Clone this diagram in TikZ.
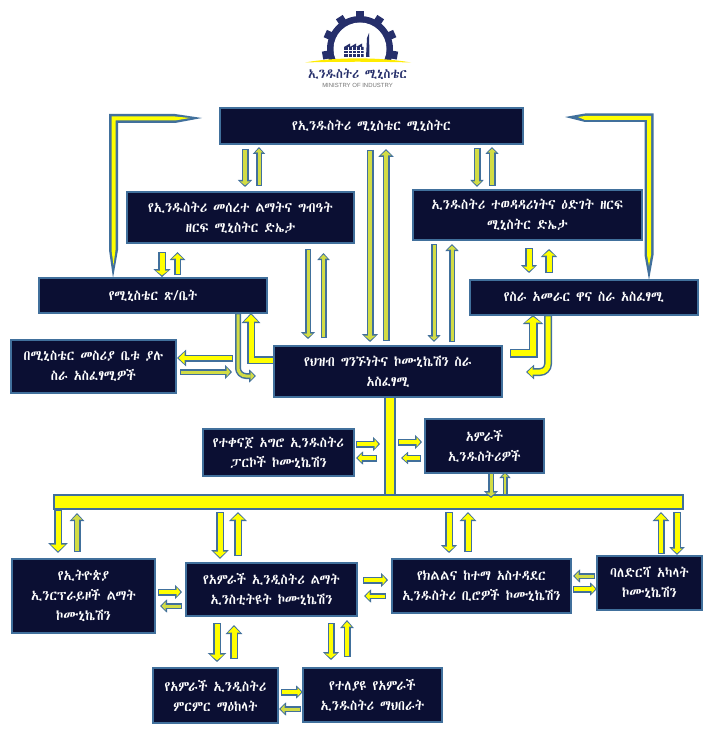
\documentclass[tikz,border=0pt]{standalone}
\usepackage{fontspec}
\usetikzlibrary{arrows.meta,calc}
\newfontfamily\ethf[FakeStretch=0.93]{Abyssinica SIL}
\newfontfamily\ethb[FakeStretch=0.95]{Abyssinica SIL}
\newfontfamily\latf{Liberation Sans}
\definecolor{navyb}{HTML}{0B0F33}
\definecolor{bord}{HTML}{41709C}
\definecolor{ylw}{HTML}{FFFF00}
\definecolor{ylt}{HTML}{D2DC45}
\definecolor{logon}{HTML}{262F6B}
\def\u{0.02cm}
\tikzset{
  boxn/.style={draw=bord,fill=navyb,line width=2*\u,text=white,align=center,inner sep=0pt,outer sep=0pt,
    font=\ethf\fontsize{8}{11.4}\selectfont},
}
% box from corners
\newcommand\bx[6]{\node[boxn,minimum width={(#4-#2)*\u},minimum height={(#5-#3)*\u}] (#1) at ({(#2+#4)/2},{(#3+#5)/2}) {#6};}
% block arrow: [fill]{shaft}{head}{len}{path}
\newcommand\barr[5][ylw]{%
  \pgfmathsetlengthmacro\aw{#3*\u}\pgfmathsetlengthmacro\al{#4*\u}%
  \pgfmathsetlengthmacro\bw{(#3-4.6)*\u}\pgfmathsetlengthmacro\bl{(#4-3.2)*\u}%
  \draw[bord,line width=#2*\u,-{Triangle[width=\aw,length=\al]}] #5;
  \draw[#1,line width=(#2-3)*\u,shorten <=1.4*\u,shorten >=1.7*\u,-{Triangle[width=\bw,length=\bl]}] #5;
}
% end points relative to named nodes
\newcommand\V[3]{($(#1,0 |- #2)+(0,#3)$)}
\newcommand\HH[3]{($(#1 |- 0,#2)+(#3,0)$)}
\begin{document}
\begin{tikzpicture}[x=0.02cm,y=-0.02cm]
\useasboundingbox[fill=white] (0,0) rectangle (712,733);
% ---------- logo
\begin{scope}
 \fill[logon] (360,49) circle (33);
 \foreach \a in {0,33,66,100,-33,-66,-100}
   \draw[logon,line width=8*\u] ({360+30*sin(\a)},{49-30*cos(\a)}) -- ({360+38*sin(\a)},{49-38*cos(\a)});
 \fill[white] (360,49) circle (26.5);
 \fill[white] (315,61) rectangle (405,90);
 \fill[ylw!85!orange] (305,62.5) .. controls (335,57) and (380,57) .. (411,62.5) .. controls (380,61.5) and (335,61.5) .. cycle;
 \fill[logon] (344,57) -- (344,47) -- (350,43.5) -- (350,47) -- (356,43.5) -- (356,47) -- (362,43.5) -- (362,47) -- (363.5,47) -- (363.5,57) -- cycle;
 \draw[white,line width=0.8*\u] (344,50) -- (364,50) (344,53.5) -- (364,53.5) (348,47) -- (348,57) (352,47) -- (352,57) (356,47) -- (356,57) (360,47) -- (360,57);
 \fill[logon] (366,57) -- (367,38) -- (369,33) -- (369.5,57) -- cycle;
\end{scope}
\node[inner sep=0pt,text=logon,font=\ethb\bfseries\fontsize{7.5}{9}\selectfont] (logot) at (357.5,74) {ኢንዱስትሪ ሚኒስቴር};
\node[inner sep=0pt,text=black!55,font=\latf\fontsize{3.4}{4}\selectfont] (logos) at (357.5,85) {MINISTRY OF INDUSTRY};
% ---------- boxes
\bx{top}{220}{108}{523}{144}{የኢንዱስትሪ ሚኒስቴር ሚኒስትር}
\bx{mina}{127}{192}{354}{243}{የኢንዱስትሪ መሰረተ ልማትና ግብዓት\\ዘርፍ ሚኒስትር ድኤታ}
\bx{minb}{413}{190}{642}{240}{ኢንዱስትሪ ተወዳዳሪነትና ዕድገት ዘርፍ\\ሚኒስትር ድኤታ}
\bx{office}{39}{278}{267}{313}{የሚኒስቴር ጽ/ቤት}
\bx{execu}{470}{280}{698}{315}{የስራ አመራር ዋና ስራ አስፈፃሚ}
\bx{leftb}{11}{340}{176}{393}{በሚኒስቴር መስሪያ ቤቱ ያሉ\\ስራ አስፈፃሚዎች}
\bx{center}{274}{346}{502}{397}{የህዝብ ግንኙነትና ኮሙኒኬሽን ስራ\\አስፈፃሚ}
\bx{parks}{203}{429}{354}{476}{የተቀናጀ አግሮ ኢንዱስትሪ\\ፓርኮች ኮሙኒኬሽን}
\bx{amr}{425}{419}{544}{473}{አምራች\\ኢንዱስትሪዎች}
\bx{eth}{12}{559}{155}{633}{የኢትዮጵያ\\ኢንርፕራይዞች ልማት\\ኮሙኒኬሽን}
\bx{inst}{186}{563}{357}{616}{የአምራች ኢንዲስትሪ ልማት\\ኢንስቲትዩት ኮሙኒኬሽን}
\bx{reg}{392}{559}{571}{613}{የክልልና ከተማ አስተዳደር\\ኢንዱስትሪ ቢሮዎች ኮሙኒኬሽን}
\bx{stake}{597}{556}{702}{610}{ባለድርሻ አካላት\\ኮሙኒኬሽን}
\bx{res}{153}{668}{278}{723}{የአምራች ኢንዲስትሪ\\ምርምር ማዕከላት}
\bx{assoc}{303}{668}{442}{722}{የተለያዩ የአምራች\\ኢንዱስትሪ ማህበራት}
% ---------- bar and stem
\draw[bord,fill=ylw,line width=2*\u] (385,0 |- center.south) rectangle (394.5,0 |- 0,496);
\node[draw=bord,fill=ylw,line width=2*\u,minimum width=629*\u,minimum height=14*\u,inner sep=0pt,outer sep=0pt] (bar) at (368.5,502) {};
% ---------- straight arrows, vertical
\barr[ylt]{7}{14}{7}{\V{245}{top.south}{5} -- \V{245}{mina.north}{-5}}
\barr[ylt]{6}{12}{7}{\V{259}{mina.north}{-6} -- \V{259}{top.south}{3}}
\barr{8}{17}{8}{\V{162}{mina.south}{9} -- \V{162}{office.north}{-1}}
\barr{7}{15}{8}{\V{177.5}{office.north}{-3} -- \V{177.5}{mina.south}{9}}
\barr[ylt]{6}{14}{7}{\V{308}{mina.south}{6} -- \V{308}{center.north}{-7}}
\barr[ylt]{6}{12}{7}{\V{323.5}{center.north}{-8} -- \V{323.5}{mina.south}{10}}
\barr[ylt]{7}{16}{8}{\V{370}{top.south}{6} -- \V{370}{center.north}{-4}}
\barr[ylt]{7}{15}{8}{\V{386}{center.north}{-5} -- \V{386}{top.south}{5}}
\barr[ylt]{7}{13}{7}{\V{477}{top.south}{4} -- \V{477}{minb.north}{-3}}
\barr[ylt]{7}{13}{7}{\V{492}{minb.north}{-4} -- \V{492}{top.south}{3}}
\barr[ylt]{6}{13}{7}{\V{434}{minb.south}{4} -- \V{434}{center.north}{-4}}
\barr[ylt]{6}{13}{7}{\V{452}{center.north}{-4} -- \V{452}{minb.south}{4}}
\barr{8}{16}{8}{\V{529}{minb.south}{8} -- \V{529}{execu.north}{-7}}
\barr{8}{16}{8}{\V{549}{execu.north}{-7} -- \V{549}{minb.south}{9}}
\barr[ylt]{6}{14}{7}{\V{491}{amr.south}{0} -- \V{491}{bar.north}{3}}
\barr[ylt]{5}{11}{6}{\V{505}{bar.north}{0} -- \V{505}{amr.south}{-1}}
\barr{8}{19}{10}{\V{58}{bar.south}{1} -- \V{58}{eth.north}{-6}}
\barr[ylt]{7}{14}{8}{\V{77}{eth.north}{-7} -- \V{77}{bar.south}{4}}
\barr{8}{17}{9}{\V{220}{bar.south}{3} -- \V{220}{inst.north}{-4}}
\barr{8}{17}{9}{\V{238}{inst.north}{-7} -- \V{238}{bar.south}{3}}
\barr{8}{16}{8}{\V{449}{bar.south}{3} -- \V{449}{reg.north}{-6}}
\barr{8}{16}{9}{\V{468}{reg.north}{-7} -- \V{468}{bar.south}{3}}
\barr{7}{16}{9}{\V{661}{stake.north}{-2} -- \V{661}{bar.south}{3}}
\barr{8}{15}{8}{\V{677}{bar.south}{3} -- \V{677}{stake.north}{-1}}
\barr{8}{18}{9}{\V{217}{inst.south}{7} -- \V{217}{res.north}{-6}}
\barr{8}{16}{9}{\V{234}{res.north}{-9} -- \V{234}{inst.south}{9}}
\barr{7}{16}{8}{\V{331}{inst.south}{7} -- \V{331}{assoc.north}{-8}}
\barr{7}{13}{8}{\V{347}{assoc.north}{-11} -- \V{347}{inst.south}{4}}
% ---------- straight arrows, horizontal
\barr{7}{16}{9}{\HH{leftb.east}{358}{57} -- \HH{leftb.east}{358}{1}}
\barr[ylt]{6}{14}{7}{\HH{leftb.east}{372}{4} -- \HH{leftb.east}{372}{56}}
\barr{7}{14}{7}{\HH{parks.east}{444}{2} -- \HH{parks.east}{444}{26}}
\barr{7}{13}{7}{\HH{parks.east}{458}{23} -- \HH{parks.east}{458}{2}}
\barr{7}{14}{7}{\HH{amr.west}{442}{-27} -- \HH{amr.west}{442}{-3}}
\barr{7}{12}{7}{\HH{amr.west}{458}{-4} -- \HH{amr.west}{458}{-24}}
\barr{7}{14}{7}{\HH{eth.east}{592}{3} -- \HH{inst.west}{592}{-4}}
\barr[ylt]{6}{13}{7}{\HH{inst.west}{606}{-4} -- \HH{eth.east}{606}{5}}
\barr{7}{14}{7}{\HH{inst.east}{580}{6} -- \HH{reg.west}{580}{-4}}
\barr{6}{13}{7}{\HH{reg.west}{596}{-6} -- \HH{inst.east}{596}{7}}
\barr[ylt]{6}{13}{7}{\HH{stake.west}{576}{-2} -- \HH{reg.east}{576}{2}}
\barr{7}{13}{7}{\HH{reg.east}{589}{2} -- \HH{stake.west}{589}{0}}
\barr{7}{13}{7}{\HH{res.east}{692}{3} -- \HH{assoc.west}{692}{0}}
\barr[ylt]{6}{13}{7}{\HH{assoc.west}{709}{-2} -- \HH{res.east}{709}{1}}
% ---------- bent arrows
\barr{8}{18}{10}{(center.west |- 0,360) -- (251,360) -- (251,0 |- office.south)}
\barr[ylt]{6}{13}{7}{[rounded corners=8*\u] (238,0 |- office.south) -- (238,376) -- (256,376)}
\barr{9}{20}{9}{(510,353) -- (533,353) -- (533,0 |- execu.south)}
\barr{8}{14}{8}{[rounded corners=8*\u] (548,0 |- execu.south) -- (548,372) -- (526,372)}
% ---------- tapered long arrows
\fill[bord] (113,0 |- office.north) -- (118,250) -- (118,123) -- (175,123) -- ($(top.west)+(-18,-8)$) -- (175,114) -- (109,114) -- (109,250) -- cycle;
\fill[ylw] (113.5,265) -- (115.5,250) -- (115.5,120.5) -- (175,120.5) -- (190,118) -- (175,116.5) -- (111.5,116.5) -- (111.5,250) -- cycle;
\fill[bord] ($(top.east)+(42,-9)$) -- (585,113.5) -- (653.5,113.5) -- (653.5,255) -- (649,0 |- execu.north) -- (644.5,255) -- (644.5,122) -- (585,122) -- cycle;
\fill[ylw] (578,117) -- (585,116) -- (651,116) -- (651,255) -- (649,266) -- (647,255) -- (647,120) -- (585,120) -- cycle;
\end{tikzpicture}
\end{document}
